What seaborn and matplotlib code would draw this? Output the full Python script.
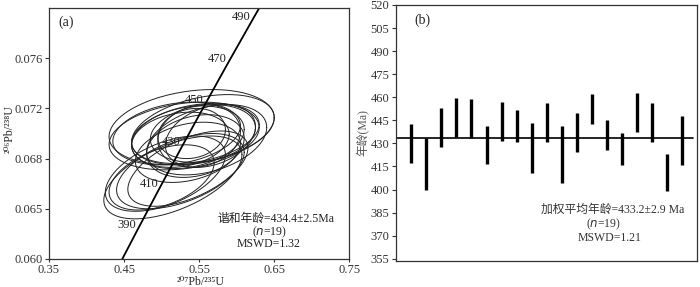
import seaborn as sns
import matplotlib.pyplot as plt
import pandas as pd
import numpy as np

# Concordia points (age Ma, 207Pb/235U, 206Pb/238U)
conc_age = [370, 390, 410, 430, 450, 470, 490, 500]
conc_x = [0.4396, 0.4683, 0.4975, 0.5273, 0.5577, 0.5886, 0.6202, 0.6363]
conc_y = [0.05908, 0.06237, 0.06567, 0.06898, 0.07230, 0.07563, 0.07897, 0.08065]
label_ages = [390, 410, 430, 450, 470, 490]

# Error ellipses: centre, half-widths and correlation
ell_cx = [0.540, 0.555, 0.530, 0.545, 0.555, 0.535, 0.550, 0.540, 0.525, 0.565,
          0.545, 0.520, 0.560, 0.535, 0.515, 0.505, 0.525, 0.500, 0.535]
ell_cy = [0.0705, 0.0703, 0.0698, 0.0700, 0.0700, 0.0697, 0.0698, 0.0700, 0.0695, 0.0698,
          0.0690, 0.0700, 0.0695, 0.0685, 0.0665, 0.0668, 0.0670, 0.0665, 0.0672]
ell_sx = [0.110, 0.095, 0.100, 0.085, 0.070, 0.075, 0.055, 0.045, 0.065, 0.060,
          0.065, 0.085, 0.080, 0.070, 0.092, 0.080, 0.085, 0.070, 0.080]
ell_sy = [0.0030, 0.0028, 0.0027, 0.0024, 0.0023, 0.0025, 0.0025, 0.0020, 0.0022, 0.0025,
          0.0025, 0.0025, 0.0028, 0.0024, 0.0033, 0.0030, 0.0030, 0.0026, 0.0030]
ell_rho = [0.25, 0.35, 0.25, 0.30, 0.20, 0.25, 0.15, 0.15, 0.20, 0.30,
           0.25, 0.25, 0.35, 0.30, 0.55, 0.50, 0.50, 0.45, 0.55]

# Weighted mean panel: age error bars (Ma)
spot = list(range(1, 20))
age_hi = [442.5, 433.2, 452.7, 459.6, 459.0, 441.6, 456.6, 452.0, 443.4, 456.0,
          441.0, 449.7, 461.8, 445.5, 437.0, 462.5, 456.0, 423.0, 448.1]
age_lo = [417.3, 399.5, 427.7, 434.2, 433.2, 416.4, 431.4, 431.0, 410.8, 431.0,
          404.3, 424.5, 442.5, 425.6, 416.2, 437.3, 430.6, 398.9, 415.8]
mean_age = 433.6

left_yticks = [0.060, 0.064, 0.068, 0.072, 0.076]
left_yticklabels = ['0.060', '0.065', '0.068', '0.072', '0.076']
left_xticks = [0.35, 0.45, 0.55, 0.65, 0.75]
right_yticks = [355, 370, 385, 400, 415, 430, 445, 460, 475, 490, 505, 520]

sns.set_theme(style='ticks')
plt.rcParams['font.family'] = ['Liberation Serif', 'Noto Sans CJK SC']
plt.rcParams['axes.edgecolor'] = '#333333'
plt.rcParams['xtick.color'] = '#333333'
plt.rcParams['ytick.color'] = '#333333'
plt.rcParams['axes.linewidth'] = 0.9
sup_family = ['Liberation Serif', 'DejaVu Serif']

fig = plt.figure(figsize=(7, 2.87), dpi=100)
ax1 = fig.add_axes([0.070, 0.0976, 0.429, 0.8746])
ax2 = fig.add_axes([0.566, 0.0906, 0.430, 0.892])

# ellipse outlines as long table
t = np.linspace(0, 2 * np.pi, 200)
rows = []
for i in range(len(ell_cx)):
    r = ell_rho[i]
    xs = ell_cx[i] + ell_sx[i] * np.cos(t)
    ys = ell_cy[i] + ell_sy[i] * (r * np.cos(t) + np.sqrt(1 - r * r) * np.sin(t))
    rows.append(pd.DataFrame({'x': xs, 'y': ys, 'id': i}))
ell_df = pd.concat(rows)
sns.lineplot(data=ell_df, x='x', y='y', units='id', estimator=None, sort=False,
             color='#222222', lw=0.7, ax=ax1)

conc_df = pd.DataFrame({'x': conc_x, 'y': conc_y, 'age': conc_age})
sns.lineplot(data=conc_df, x='x', y='y', sort=False, color='black', lw=1.3, ax=ax1)
for a in label_ages:
    j = conc_age.index(a)
    ax1.annotate(str(a), (conc_x[j], conc_y[j]), xytext=(-1, 3), textcoords='offset points',
                 ha='right', va='center', fontsize=9, color='#222222')

ax1.set_xlim(0.35, 0.75)
ax1.set_ylim(0.060, 0.080)
ax1.set_xticks(left_xticks)
ax1.set_xticklabels([f'{v:.2f}' for v in left_xticks])
ax1.set_yticks(left_yticks)
ax1.set_yticklabels(left_yticklabels)
ax1.tick_params(labelsize=9, length=3, width=0.8, pad=1.5)
ax1.tick_params(axis='x', labelsize=9, length=2.5, pad=1)
ax1.set_xlabel('')
ax1.set_ylabel('')
fig.text(0.286, 0.018, '²⁰⁷Pb/²³⁵U', fontsize=8.5, ha='center', va='center',
         family=sup_family)
fig.text(0.014, 0.55, '²⁰⁶Pb/²³⁸U', fontsize=8.5, ha='center', va='center',
         rotation=90, family=sup_family)
ax1.text(0.03, 0.97, '(a)', transform=ax1.transAxes, fontsize=10, va='top', ha='left')
ax1.text(0.755, 0.16, '谐和年龄=434.4±2.5Ma', transform=ax1.transAxes, fontsize=8.5,
         ha='center', va='center', color='#222222')
ax1.text(0.735, 0.108, '($n$=19)', transform=ax1.transAxes, fontsize=8.5,
         ha='center', va='center', color='#222222')
ax1.text(0.73, 0.058, 'MSWD=1.32', transform=ax1.transAxes, fontsize=8.5,
         ha='center', va='center', color='#222222')

# right panel
ax2.vlines(spot, age_lo, age_hi, color='black', lw=2.4)
ax2.axhline(mean_age, color='black', lw=1.2, xmin=0.0, xmax=0.985)
ax2.set_xlim(0, 20)
ax2.set_ylim(353.5, 520)
ax2.set_xticks([])
ax2.set_yticks(right_yticks)
ax2.tick_params(labelsize=9, length=3, width=0.8, pad=2)
ax2.set_ylabel('')
fig.text(0.519, 0.537, '年龄(Ma)', fontsize=8.5, color='#555555', ha='center', va='center',
         rotation=90)
ax2.text(0.06, 0.965, '(b)', transform=ax2.transAxes, fontsize=10, va='top', ha='left')
ax2.text(0.72, 0.2, '加权平均年龄=433.2±2.9 Ma', transform=ax2.transAxes, fontsize=8.5,
         ha='center', va='center', color='#333333')
ax2.text(0.69, 0.143, '($n$=19)', transform=ax2.transAxes, fontsize=8.5,
         ha='center', va='center', color='#333333')
ax2.text(0.71, 0.088, 'MSWD=1.21', transform=ax2.transAxes, fontsize=8.5,
         ha='center', va='center', color='#333333')

fig.savefig('out.png', dpi=100)
